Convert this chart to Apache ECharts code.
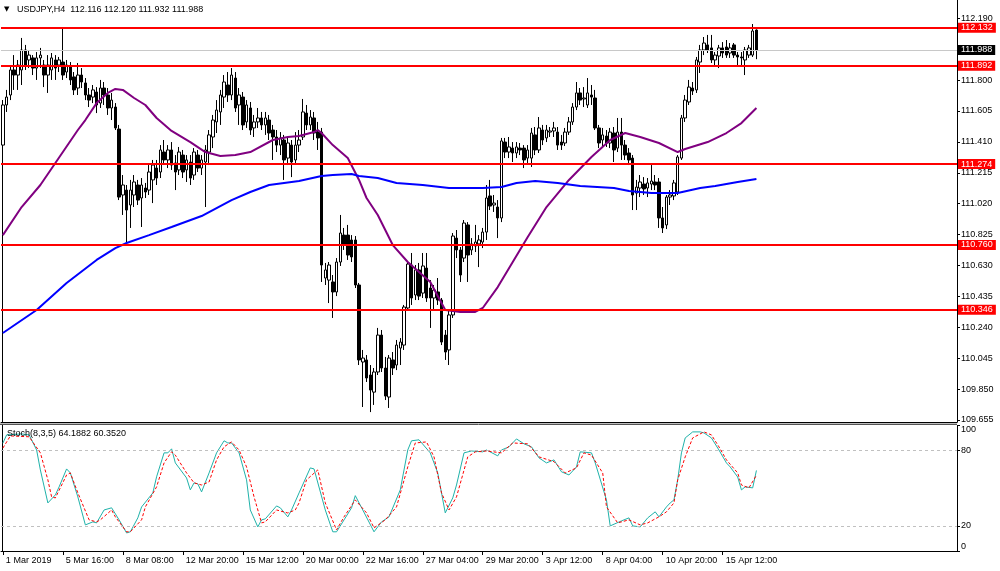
<!DOCTYPE html>
<html><head><meta charset="utf-8">
<script src="https://cdn.jsdelivr.net/npm/echarts@6/dist/echarts.min.js"></script>
<style>html,body{margin:0;padding:0;background:#fff}#c{width:1000px;height:571px}</style>
</head><body><div id="c"></div>
<script>
const SYMBOL = 'USDJPY,H4';
const LAST_OHLC = ['112.116', '112.120', '111.932', '111.988'];
const STOCH_TITLE = 'Stoch(8,3,5) 64.1882 60.3520';

// trading sessions (H4 bars); Sunday sessions have only the 20:00 bar
const DAYS = ['1 Mar','4 Mar','5 Mar','6 Mar','7 Mar','8 Mar','10 Mar','11 Mar','12 Mar','13 Mar','14 Mar','15 Mar',
  '17 Mar','18 Mar','19 Mar','20 Mar','21 Mar','22 Mar','24 Mar','25 Mar','26 Mar','27 Mar','28 Mar','29 Mar',
  '1 Apr','2 Apr','3 Apr','4 Apr','5 Apr','8 Apr','9 Apr','10 Apr','11 Apr','12 Apr','15 Apr','16 Apr','17 Apr'];
const SUNDAY_SESSIONS = ['10 Mar','17 Mar','24 Mar'];
const TICK_LABELS = ['1 Mar 2019','5 Mar 16:00','8 Mar 08:00','12 Mar 20:00','15 Mar 12:00','20 Mar 00:00',
  '22 Mar 16:00','27 Mar 04:00','29 Mar 20:00','3 Apr 12:00','8 Apr 04:00','10 Apr 20:00','15 Apr 12:00'];

// [open, high, low, close]
const BARS = [
[111.390,111.674,111.371,111.643],[111.643,111.738,111.599,111.693],[111.706,111.895,111.674,111.864],[111.864,111.958,111.738,111.832],
[111.832,111.927,111.738,111.895],[111.864,112.066,111.769,111.990],[111.990,112.022,111.864,111.895],[111.927,111.990,111.876,111.958],
[111.940,111.958,111.832,111.876],[111.876,111.977,111.801,111.940],[111.940,112.003,111.876,111.958],[111.895,111.927,111.756,111.832],
[111.832,111.958,111.719,111.895],[111.864,111.971,111.801,111.940],[111.927,111.958,111.801,111.876],[111.895,111.946,111.851,111.927],
[111.914,112.129,111.801,111.832],[111.851,111.927,111.813,111.895],[111.883,111.914,111.769,111.801],[111.820,111.851,111.706,111.738],
[111.750,111.908,111.706,111.832],[111.832,111.876,111.750,111.788],[111.782,111.813,111.674,111.706],[111.706,111.750,111.630,111.674],
[111.693,111.769,111.655,111.738],[111.725,111.756,111.592,111.643],[111.655,111.801,111.624,111.750],[111.750,111.788,111.643,111.706],
[111.706,111.750,111.580,111.624],[111.624,111.719,111.548,111.674],[111.630,111.655,111.485,111.498],[111.491,111.517,111.043,111.062],
[111.075,111.201,110.949,111.138],[111.106,111.138,110.772,110.980],[111.012,111.170,110.867,111.106],[111.075,111.201,110.999,111.157],
[111.138,111.170,111.012,111.043],[111.056,111.182,110.873,111.138],[111.119,111.151,111.056,111.094],[111.106,111.264,111.075,111.220],
[111.170,111.296,111.024,111.264],[111.245,111.296,111.138,111.182],[111.220,111.390,111.182,111.359],[111.346,111.422,111.264,111.296],
[111.296,111.390,111.245,111.359],[111.359,111.409,111.233,111.264],[111.277,111.327,111.106,111.220],[111.233,111.378,111.201,111.346],
[111.327,111.359,111.182,111.220],[111.233,111.327,111.157,111.296],[111.283,111.327,111.138,111.182],[111.201,111.371,111.170,111.346],
[111.327,111.359,111.220,111.245],[111.245,111.327,111.201,111.296],[111.283,111.390,110.999,111.359],[111.346,111.485,111.264,111.454],
[111.441,111.580,111.371,111.548],[111.536,111.674,111.466,111.611],[111.599,111.738,111.517,111.706],[111.693,111.832,111.624,111.788],
[111.769,111.851,111.662,111.706],[111.706,111.876,111.674,111.832],[111.813,111.851,111.599,111.624],[111.643,111.750,111.517,111.706],
[111.693,111.725,111.485,111.517],[111.536,111.674,111.498,111.643],[111.624,111.662,111.454,111.485],[111.498,111.580,111.441,111.536],
[111.536,111.624,111.498,111.561],[111.561,111.599,111.485,111.517],[111.517,111.599,111.454,111.561],[111.548,111.580,111.422,111.466],
[111.485,111.517,111.296,111.441],[111.441,111.485,111.346,111.390],[111.390,111.472,111.327,111.435],[111.422,111.454,111.170,111.296],
[111.308,111.435,111.264,111.403],[111.390,111.422,111.188,111.283],[111.296,111.472,111.277,111.390],[111.390,111.485,111.346,111.422],
[111.441,111.681,111.422,111.599],[111.592,111.643,111.485,111.517],[111.517,111.611,111.485,111.567],[111.561,111.599,111.422,111.466],
[111.472,111.536,111.359,111.435],[111.472,111.498,110.526,110.633],[110.551,110.646,110.507,110.602],[110.538,110.652,110.393,110.633],
[110.526,110.570,110.299,110.463],[110.463,110.677,110.437,110.652],[110.652,110.949,110.627,110.835],[110.822,110.867,110.728,110.759],
[110.822,110.886,110.665,110.696],[110.791,110.822,110.652,110.684],[110.791,110.816,110.488,110.507],[110.507,110.520,110.002,110.034],
[110.021,110.097,109.737,110.046],[110.034,110.065,109.895,109.920],[109.939,110.002,109.705,109.844],[109.831,109.983,109.750,109.958],
[109.958,110.236,109.939,110.191],[110.191,110.223,109.958,109.983],[109.983,110.053,109.781,109.806],[109.800,110.065,109.731,110.046],
[110.034,110.084,109.939,109.983],[110.002,110.160,109.970,110.128],[110.109,110.172,110.002,110.147],[110.128,110.381,110.097,110.368],
[110.362,110.652,110.349,110.639],[110.633,110.709,110.381,110.425],[110.444,110.633,110.412,110.602],[110.602,110.646,110.412,110.437],
[110.456,110.709,110.425,110.627],[110.614,110.709,110.400,110.425],[110.488,110.538,110.236,110.425],[110.425,110.507,110.349,110.475],
[110.463,110.551,110.381,110.412],[110.412,110.425,110.128,110.147],[110.191,110.223,110.034,110.084],[110.097,110.349,110.002,110.318],
[110.318,110.835,110.299,110.816],[110.803,110.854,110.677,110.728],[110.728,110.747,110.526,110.570],[110.677,110.917,110.652,110.898],
[110.886,110.904,110.526,110.696],[110.728,110.803,110.696,110.766],[110.753,110.886,110.715,110.778],[110.766,110.822,110.620,110.791],
[110.778,110.867,110.740,110.841],[110.841,111.138,110.791,111.056],[111.069,111.170,110.980,111.005],[111.012,111.075,110.968,111.024],
[110.999,111.043,110.803,110.930],[110.930,111.435,110.904,111.416],[111.409,111.435,111.308,111.346],[111.346,111.441,111.308,111.378],
[111.371,111.409,111.283,111.340],[111.340,111.409,111.308,111.378],[111.371,111.403,111.327,111.359],[111.371,111.390,111.245,111.296],
[111.308,111.390,111.277,111.359],[111.308,111.498,111.252,111.466],[111.454,111.504,111.327,111.359],[111.359,111.567,111.340,111.498],
[111.485,111.517,111.390,111.422],[111.435,111.517,111.409,111.485],[111.472,111.504,111.441,111.479],[111.479,111.536,111.441,111.498],
[111.472,111.504,111.359,111.390],[111.409,111.454,111.359,111.390],[111.403,111.498,111.384,111.472],[111.472,111.567,111.454,111.536],
[111.536,111.655,111.517,111.630],[111.630,111.788,111.611,111.719],[111.719,111.750,111.643,111.674],[111.681,111.756,111.630,111.687],
[111.643,111.813,111.624,111.719],[111.706,111.769,111.643,111.693],[111.687,111.738,111.485,111.498],[111.498,111.517,111.371,111.403],
[111.422,111.498,111.378,111.454],[111.447,111.485,111.378,111.403],[111.403,111.498,111.371,111.472],[111.466,111.504,111.283,111.359],
[111.371,111.561,111.346,111.472],[111.472,111.561,111.296,111.390],[111.390,111.422,111.296,111.327],[111.340,111.371,111.264,111.296],
[111.308,111.327,110.980,111.075],[111.087,111.170,110.980,111.125],[111.119,111.201,111.062,111.157],[111.144,111.188,111.075,111.113],
[111.119,111.182,111.062,111.151],[111.144,111.264,111.106,111.163],[111.157,111.201,111.106,111.138],[111.157,111.182,110.867,110.930],
[110.930,110.999,110.835,110.867],[110.886,111.075,110.860,111.062],[111.062,111.106,111.012,111.075],[111.069,111.170,111.043,111.151],
[111.094,111.327,111.075,111.315],[111.308,111.580,111.296,111.561],[111.561,111.706,111.536,111.674],[111.662,111.801,111.643,111.756],
[111.750,111.788,111.706,111.731],[111.738,111.946,111.719,111.927],[111.914,112.022,111.845,111.990],[111.990,112.072,111.958,112.034],
[112.022,112.085,111.971,111.990],[112.003,112.085,111.908,111.927],[111.927,111.977,111.895,111.958],[111.952,112.022,111.876,112.003],
[112.003,112.040,111.940,111.971],[112.009,112.053,111.940,111.958],[111.971,112.034,111.940,112.003],[112.022,112.034,111.940,111.958],
[111.958,111.977,111.895,111.946],[111.946,111.977,111.883,111.940],[111.927,112.009,111.832,111.990],[111.958,112.022,111.940,112.003],
[111.958,112.154,111.946,112.110],[112.116,112.120,111.932,111.988]
];

// moving averages: [bar index, value]
const MA_PURPLE = [[0,110.822],[5,110.999],[10,111.138],[14,111.277],[20,111.485],[22,111.548],[25,111.655],[28,111.719],[30,111.744],
  [32,111.738],[35,111.687],[38,111.643],[41,111.561],[45,111.479],[50,111.409],[54,111.346],[58,111.321],[62,111.327],[66,111.346],
  [72,111.422],[76,111.441],[79,111.447],[83,111.472],[84,111.485],[85,111.466],[88,111.390],[92,111.308],[95,111.170],[97,111.056],
  [100,110.949],[104,110.759],[108,110.652],[114,110.526],[118,110.349],[122,110.337],[126,110.337],[128,110.362],[132,110.494],
  [136,110.652],[140,110.810],[145,110.999],[151,111.170],[157,111.315],[162,111.422],[166,111.466],[170,111.441],[175,111.403],
  [180,111.346],[182,111.365],[188,111.409],[193,111.466],[197,111.529],[201,111.624]];
const MA_BLUE = [[0,110.204],[9,110.349],[17,110.520],[25,110.665],[30,110.740],[33,110.772],[39,110.822],[45,110.873],[53,110.942],
  [61,111.043],[66,111.094],[71,111.138],[79,111.163],[85,111.195],[88,111.201],[93,111.207],[95,111.195],[100,111.182],[105,111.151],
  [112,111.138],[119,111.119],[128,111.119],[133,111.125],[137,111.151],[142,111.163],[148,111.151],[154,111.132],[163,111.119],
  [167,111.100],[173,111.087],[180,111.087],[186,111.119],[190,111.132],[196,111.157],[201,111.176]];

const STOCH_K = [[0,85.9],[1,92.5],[5,93.3],[7,92.5],[9,80.5],[10,64.6],[12,38.3],[14,44.7],[15,51.1],[17,65.4],[18,62.2],[20,43.1],
  [22,20.8],[24,23.2],[25,22.4],[27,32.7],[29,34.4],[31,24.8],[33,14.4],[34,15.3],[36,26.4],[37,35.1],[40,46.3],[41,59.1],[43,78.2],[44,78.2],
  [45,81.4],[46,70.2],[49,58.2],[50,48.7],[51,54.3],[52,53.5],[53,47.1],[55,62.2],[57,78.2],[59,87.8],[60,86.1],[61,86.1],[63,78.2],
  [65,56.7],[66,32.7],[68,19.2],[69,24.8],[70,25.6],[73,35.9],[74,34.4],[76,27.2],[77,32.7],[79,46.3],[82,66.2],[83,65.4],[86,32.7],
  [88,15.3],[89,15.3],[91,24.8],[93,34.4],[94,44.1],[96,32.7],[99,15.3],[101,23.2],[103,27.2],[106,48.7],[108,80.5],[109,87.8],[111,88.6],
  [114,78.2],[116,62.2],[118,30.4],[120,42.3],[121,52.6],[123,78.2],[125,79.7],[128,79.0],[129,80.5],[132,75.8],[133,80.5],[135,83.0],
  [137,89.3],[139,85.4],[141,83.0],[143,74.2],[145,70.2],[147,72.6],[149,63.1],[151,60.6],[153,67.0],[154,79.0],[157,78.2],[158,70.2],
  [161,40.7],[162,20.0],[165,24.0],[167,26.4],[168,20.0],[170,19.2],[172,26.4],[174,31.2],[175,27.2],[177,35.1],[178,38.3],[179,40.7],
  [180,56.7],[181,78.2],[182,90.1],[184,94.9],[186,94.9],[187,94.1],[189,90.1],[191,80.5],[193,70.2],[194,67.0],[196,59.0],[197,48.7],
  [198,51.1],[200,50.3],[201,64.19]];
const STOCH_D = [[0,82.0],[2,91.7],[7,91.0],[10,78.2],[12,56.7],[13,43.1],[14,42.3],[17,60.6],[18,62.2],[20,46.3],[23,24.8],[25,23.2],
  [26,24.8],[29,32.7],[30,27.2],[33,15.3],[34,15.3],[37,24.8],[38,35.1],[41,51.1],[43,70.2],[45,79.0],[46,76.4],[49,62.2],[51,54.3],[53,52.6],
  [55,55.0],[57,72.6],[59,83.0],[61,86.9],[63,80.5],[65,67.0],[67,43.1],[69,22.4],[70,23.2],[73,32.7],[76,30.3],[78,32.7],[79,38.3],
  [81,56.7],[84,64.6],[86,38.3],[89,16.8],[91,27.2],[94,40.7],[97,30.4],[99,18.4],[102,24.8],[105,35.1],[108,67.0],[110,86.1],[113,86.9],
  [115,75.0],[117,46.3],[119,32.7],[121,43.1],[124,75.0],[126,79.0],[129,79.7],[133,78.2],[136,86.1],[140,85.4],[143,75.0],[147,71.2],
  [150,62.2],[153,66.2],[155,78.2],[157,76.4],[160,62.2],[161,35.1],[164,22.4],[167,24.8],[170,20.8],[172,22.4],[175,27.2],[177,31.2],
  [179,38.3],[180,56.7],[182,75.0],[184,90.1],[187,94.9],[189,92.5],[191,83.0],[193,72.6],[196,62.2],[197,52.6],[199,50.3],[201,60.35]];

const LEVELS = [112.132, 111.892, 111.274, 110.760, 110.346];
const LAST_PRICE = 111.988;
const PRICE_TICKS = [112.190, 111.800, 111.605, 111.410, 111.215, 111.020, 110.825, 110.630, 110.435, 110.240, 110.045, 109.850, 109.655];
const STOCH_TICKS = [0, 20, 80, 100];
const STOCH_LEVELS = [80, 20];

// ---- build categories ----
const HOURS = ['00:00','04:00','08:00','12:00','16:00','20:00'];
const cats = [];
DAYS.forEach(d => {
  const hs = SUNDAY_SESSIONS.includes(d) ? ['20:00'] : HOURS;
  hs.forEach(h => cats.push(d + ' ' + h));
});
const NBARS = BARS.length;
const TOTAL_SLOTS = 255; // includes empty shift area on the right
const categories = [];
for (let i = 0; i < TOTAL_SLOTS; i++) categories.push(i < NBARS ? cats[i] : 'f' + i);
const TICK_STEP = 16;
const showTick = (idx) => idx % TICK_STEP === 0 && idx / TICK_STEP < TICK_LABELS.length;

const FONT = '"Liberation Sans", Arial, sans-serif';
const chart = echarts.init(document.getElementById('c'), null, {renderer: 'canvas'});

const lvlLabel = (v, bg) => ({show: true, position: 'end', distance: 1, formatter: v.toFixed(3), backgroundColor: bg,
  color: '#ffffff', fontSize: 9, padding: [1, 3, 0, 3], fontFamily: FONT});

const option = {
  animation: false,
  backgroundColor: '#ffffff',
  textStyle: {fontFamily: FONT},
  grid: [
    {left: 1, width: 956, top: 0, height: 422},
    {left: 1, width: 956, top: 425.5, height: 125.5}
  ],
  xAxis: [
    {type: 'category', gridIndex: 0, data: categories, boundaryGap: true,
     axisLine: {show: true, lineStyle: {color: '#000', width: 1}}, axisTick: {show: false}, axisLabel: {show: false}, splitLine: {show: false}},
    {type: 'category', gridIndex: 1, data: categories, boundaryGap: true,
     axisLine: {show: true, lineStyle: {color: '#000', width: 1}},
     axisTick: {show: true, alignWithLabel: true, length: 4, interval: (i) => showTick(i), lineStyle: {color: '#000'}},
     axisLabel: {show: true, interval: (i) => showTick(i), formatter: (v, i) => showTick(i) ? TICK_LABELS[i / TICK_STEP] : '',
       align: 'left', padding: [0, 0, 0, 3], margin: 5, fontSize: 9, color: '#000', fontFamily: FONT},
     splitLine: {show: false}}
  ],
  yAxis: [
    {type: 'value', gridIndex: 0, position: 'right', min: 109.6424, max: 112.3055,
     axisLine: {show: true, lineStyle: {color: '#000'}},
     axisTick: {show: true, length: 3, customValues: PRICE_TICKS, lineStyle: {color: '#000'}},
     axisLabel: {show: true, customValues: PRICE_TICKS, formatter: v => v.toFixed(3), fontSize: 9, color: '#000', margin: 4, fontFamily: FONT},
     splitLine: {show: false}},
    {type: 'value', gridIndex: 1, position: 'right', min: 0, max: 100,
     axisLine: {show: true, lineStyle: {color: '#000'}},
     axisTick: {show: true, length: 3, customValues: STOCH_TICKS, lineStyle: {color: '#000'}},
     axisLabel: {show: true, customValues: STOCH_TICKS, formatter: v => String(v), fontSize: 9, color: '#000', margin: 4, fontFamily: FONT,
       verticalAlignMaxLabel: 'top', verticalAlignMinLabel: 'bottom'},
     splitLine: {show: false}}
  ],
  series: [
    {type: 'candlestick', xAxisIndex: 0, yAxisIndex: 0, barWidth: 3,
     data: BARS.map(b => [b[0], b[3], b[2], b[1]]),
     itemStyle: {color: '#ffffff', color0: '#000000', borderColor: '#000000', borderColor0: '#000000', borderWidth: 1}},
    {type: 'line', xAxisIndex: 0, yAxisIndex: 0, data: MA_PURPLE, showSymbol: false, symbol: 'none', connectNulls: true,
     lineStyle: {color: '#800080', width: 2}, z: 3},
    {type: 'line', xAxisIndex: 0, yAxisIndex: 0, data: MA_BLUE, showSymbol: false, symbol: 'none', connectNulls: true,
     lineStyle: {color: '#0000ff', width: 2}, z: 4,
     markLine: {
       silent: true, symbol: 'none', animation: false,
       lineStyle: {color: '#ff0000', width: 2, type: 'solid'},
       data: [
         {yAxis: LAST_PRICE, lineStyle: {color: '#c8c8c8', width: 1, type: 'solid'}, label: lvlLabel(LAST_PRICE, '#000000')},
         ...LEVELS.map(v => ({yAxis: v, label: lvlLabel(v, '#ff0000')}))
       ]
     }},
    {type: 'line', xAxisIndex: 1, yAxisIndex: 1, data: STOCH_K, showSymbol: false, symbol: 'none', connectNulls: true,
     lineStyle: {color: '#20b2aa', width: 1}, z: 4,
     markLine: {silent: true, symbol: 'none', label: {show: false},
       lineStyle: {color: '#c0c0c0', width: 1, type: [3, 3]},
       data: STOCH_LEVELS.map(v => ({yAxis: v}))}},
    {type: 'line', xAxisIndex: 1, yAxisIndex: 1, data: STOCH_D, showSymbol: false, symbol: 'none', connectNulls: true,
     lineStyle: {color: '#ff0000', width: 1, type: [3, 2]}, z: 5}
  ],
  graphic: [
    {type: 'text', left: 4, top: 6, style: {text: '▼', fontSize: 7, fill: '#000', fontFamily: 'DejaVu Sans'}, z: 100},
    {type: 'text', left: 17, top: 5, style: {text: SYMBOL + '  ' + LAST_OHLC.join(' '), fontSize: 9, fill: '#000', fontFamily: FONT}, z: 100},
    {type: 'text', left: 7, top: 429, style: {text: STOCH_TITLE, fontSize: 9, fill: '#000', fontFamily: FONT}, z: 100},
    {type: 'line', shape: {x1: 0, y1: 424.5, x2: 957, y2: 424.5}, style: {stroke: '#555', lineWidth: 1}, z: 100},
    {type: 'line', shape: {x1: 0, y1: 423.5, x2: 957, y2: 423.5}, style: {stroke: '#bbb', lineWidth: 1}, z: 100},
    {type: 'line', shape: {x1: 2.5, y1: 100, x2: 2.5, y2: 422}, style: {stroke: '#000', lineWidth: 1}, z: 1},
    {type: 'line', shape: {x1: 2.5, y1: 425, x2: 2.5, y2: 551}, style: {stroke: '#000', lineWidth: 1}, z: 1}
  ]
};
chart.setOption(option);
</script></body></html>
